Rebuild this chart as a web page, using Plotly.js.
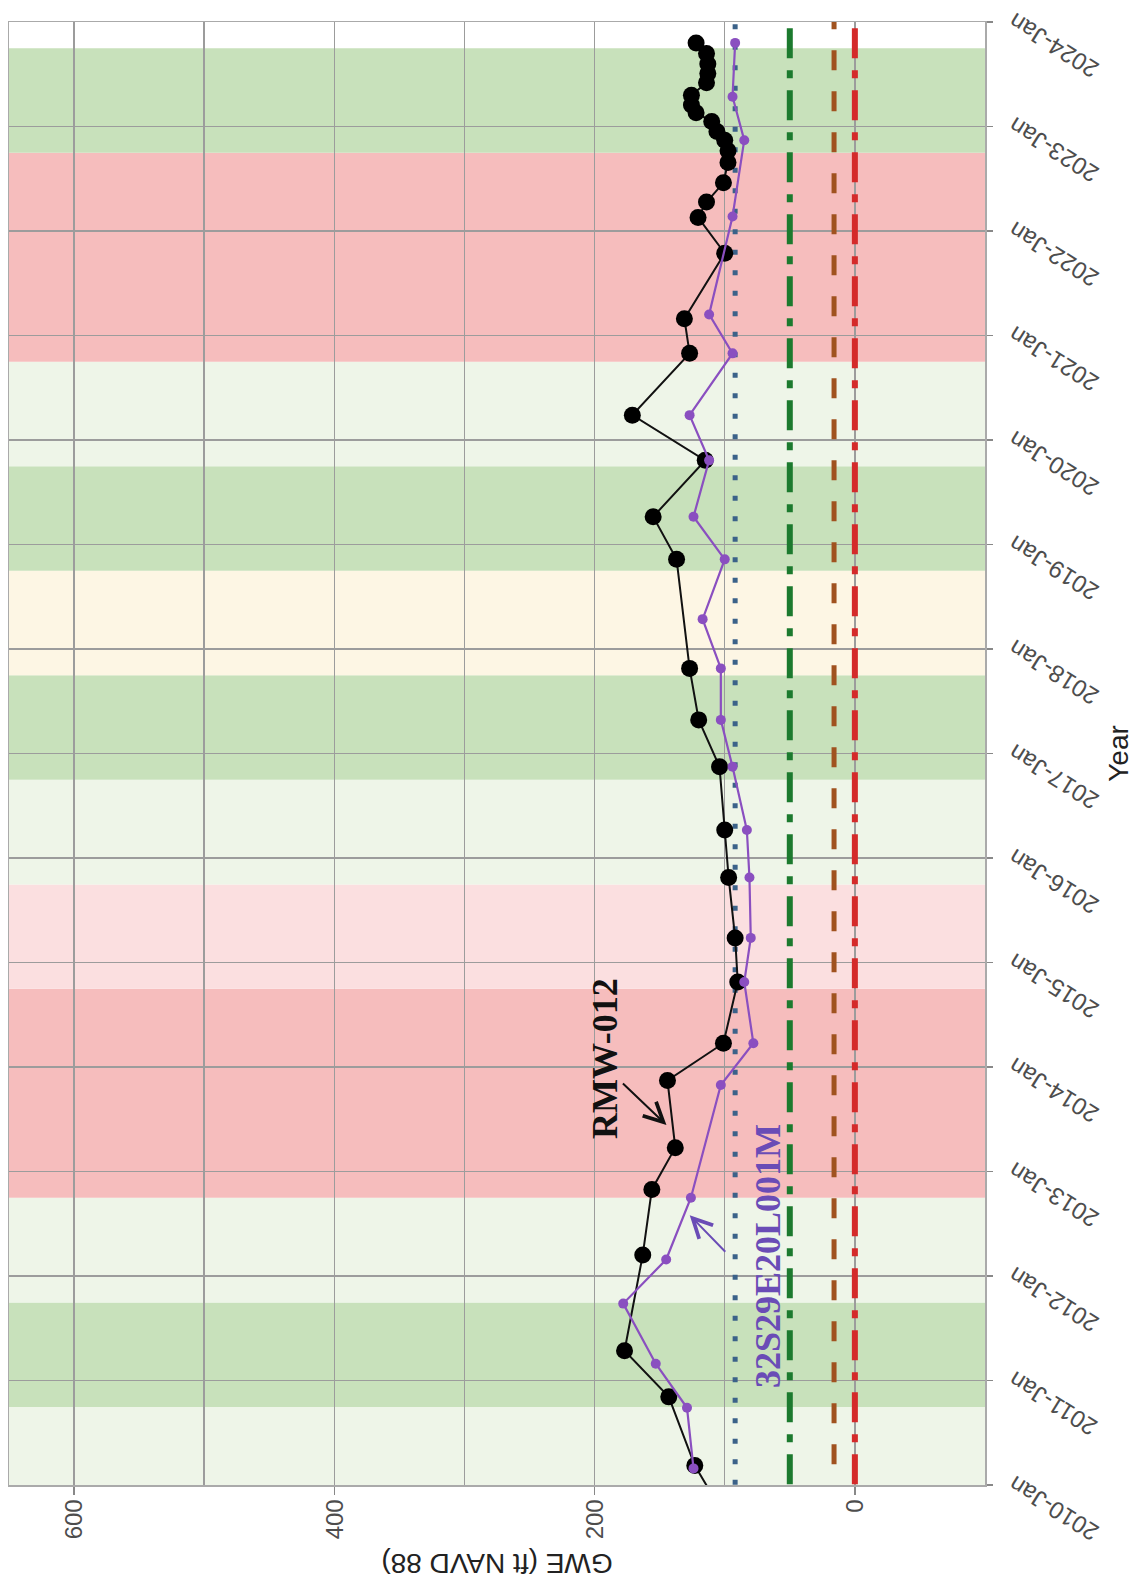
<!DOCTYPE html>
<html>
<head>
<meta charset="utf-8">
<script src="https://cdn.plot.ly/plotly-3.0.1.min.js"></script>
<style>
  html, body { margin:0; padding:0; background:#ffffff; overflow:hidden; }
  #wrap { position:absolute; left:0; top:0; width:1585px; height:1139px;
          transform-origin:0 0; transform:translate(0px,1585px) rotate(-90deg); }
</style>
</head>
<body>
<div id="wrap"></div>
<script>
// ---- data ----
const rmwDates = ['2009-10-15','2010-03-10','2010-11-05','2011-04-15','2012-03-15','2012-10-30','2013-03-25','2013-11-15','2014-03-25','2014-10-25',
  '2015-03-28','2015-10-25','2016-04-08','2016-11-15','2017-04-28','2017-10-25','2018-11-10','2019-04-08','2019-10-22','2020-03-28',
  '2020-10-30','2021-02-28','2021-10-15','2022-02-17','2022-04-12','2022-06-18','2022-08-28','2022-10-08','2022-11-14','2022-12-14',
  '2023-01-18','2023-02-18','2023-03-17','2023-04-20','2023-06-03','2023-07-05','2023-08-07','2023-09-13','2023-10-20'];
const rmwValues = [104,123,143,177,163,156,138,144,101,90,
  92,97,100,104,120,127,137,155,115,171,
  127,131,100,120.5,114,101,97.5,97.5,100,106,
  110,122,125.6,125.6,114,113,113,114,122];

const wellDates = ['2010-02-28','2010-09-28','2011-03-01','2011-09-27','2012-02-28','2012-10-01','2013-10-30','2014-03-25','2014-10-25','2015-03-28',
  '2015-10-25','2016-04-08','2016-11-15','2017-04-28','2017-10-25','2018-04-15','2018-11-10','2019-04-08','2019-10-22','2020-03-28',
  '2020-10-30','2021-03-15','2022-02-20','2022-11-14','2023-04-15','2023-10-20'];
const wellValues = [124,129,153,178,145,126,103,78,85,80,
  81,83,94,103,103,117,100,124,112,127,
  94,112,94,85,94,92];

// horizontal reference levels (ft NAVD 88)
const refNames  = ['blue dotted','green dash-dot','brown dashed','red dash-dot'];
const refValues = [92, 50, 16, 0];

// water-year classification bands
const bandStarts = ['2009-10-01','2010-10-01','2011-10-01','2012-10-01','2014-10-01','2015-10-01','2016-10-01','2017-10-01','2018-10-01','2019-10-01','2020-10-01','2022-10-01'];
const bandEnds   = ['2010-10-01','2011-10-01','2012-10-01','2014-10-01','2015-10-01','2016-10-01','2017-10-01','2018-10-01','2019-10-01','2020-10-01','2022-10-01','2023-10-01'];
const bandTypes  = ['BN','W','BN','C','D','BN','W','AN','W','BN','C','W'];

const xRange = ['2010-01-01','2024-01-01'];
const yRange = [-100, 650];

// ---- styling ----
const bandColor = {W:'#c8e1bb', BN:'#eef5e8', AN:'#fdf6e4', D:'#fbdfe0', C:'#f6bdbd'};
const refStyle = [
  {color:'#3b6289', width:5, dash:'5px,15.5px'},
  {color:'#1c7a2e', width:6, dash:'30px,12px,8px,12px'},
  {color:'#a0521f', width:5, dash:'20px,21px'},
  {color:'#d42a2a', width:6, dash:'30px,12px,8px,12px'}
];

const traces = [];
refValues.forEach((v,i)=>{
  traces.push({x:['2009-06-01','2024-06-01'], y:[v,v], mode:'lines', type:'scatter',
    name:refNames[i], hoverinfo:'skip', line:refStyle[i]});
});
traces.push({x:rmwDates, y:rmwValues, mode:'lines+markers', type:'scatter', name:'RMW-012',
  line:{color:'#111111', width:2}, marker:{color:'#000000', size:17}});
traces.push({x:wellDates, y:wellValues, mode:'lines+markers', type:'scatter', name:'32S29E20L001M',
  line:{color:'#8a4fc0', width:2.2}, marker:{color:'#8a4fc0', size:10}});

const shapes = bandStarts.map((s,i)=>({type:'rect', xref:'x', yref:'paper', x0:s, x1:bandEnds[i], y0:0, y1:1,
  fillcolor:bandColor[bandTypes[i]], line:{width:0}, layer:'below'}));

const gridC = '#9c9c9c';
const layout = {
  width:1585, height:1139,
  margin:{l:100, r:22, t:9, b:154, pad:0},
  paper_bgcolor:'#ffffff', plot_bgcolor:'#ffffff',
  showlegend:false,
  font:{family:'Liberation Sans, Arial, sans-serif'},
  xaxis:{type:'date', range:xRange, tick0:'2010-01-01', dtick:'M12', tickformat:'%Y-%b',
    tickangle:-58, ticks:'outside', ticklen:6, tickcolor:'#888', tickwidth:1.5,
    showgrid:true, gridcolor:gridC, gridwidth:1.5, zeroline:false,
    showline:true, linecolor:'#aaaaaa', linewidth:1.5, mirror:true, automargin:false,
    tickfont:{size:24, color:'#4d4d4d'},
    title:{text:'Year', font:{size:28, color:'#222222'}, standoff:6}},
  yaxis:{range:yRange, tick0:0, dtick:200, ticks:'outside', ticklen:8, tickcolor:'#888', tickwidth:1.5,
    showgrid:true, gridcolor:gridC, gridwidth:1.5, zeroline:false,
    minor:{dtick:100, showgrid:true, gridcolor:gridC, gridwidth:1.5, ticks:''},
    showline:true, linecolor:'#aaaaaa', linewidth:1.5, mirror:true, automargin:false,
    tickfont:{size:24, color:'#4d4d4d'},
    title:{text:'GWE (ft NAVD 88)', font:{size:28, color:'#222222'}, standoff:6}},
  shapes:shapes,
  annotations:[
    {x:'2014-02-01', y:192, xref:'x', yref:'y', text:'<b>RMW-012</b>', showarrow:false,
      font:{family:'Liberation Serif, Times New Roman, serif', size:36, color:'#111111'}},
    {x:'2013-06-12', y:144.8, xref:'x', yref:'y', text:'', showarrow:true, ax:43, ay:-45,
      arrowhead:5, arrowsize:1.9, arrowwidth:2, arrowcolor:'#111111', standoff:0},
    {x:'2012-03-10', y:67, xref:'x', yref:'y', text:'<b>32S29E20L001M</b>', showarrow:false,
      font:{family:'Liberation Serif, Times New Roman, serif', size:36, color:'#6a4cb6'}},
    {x:'2012-08-01', y:126.9, xref:'x', yref:'y', text:'', showarrow:true, ax:-38, ay:37,
      arrowhead:5, arrowsize:1.9, arrowwidth:2, arrowcolor:'#6a4cb6', standoff:0}
  ]
};

Plotly.newPlot('wrap', traces, layout, {staticPlot:true, displayModeBar:false});
</script>
</body>
</html>
